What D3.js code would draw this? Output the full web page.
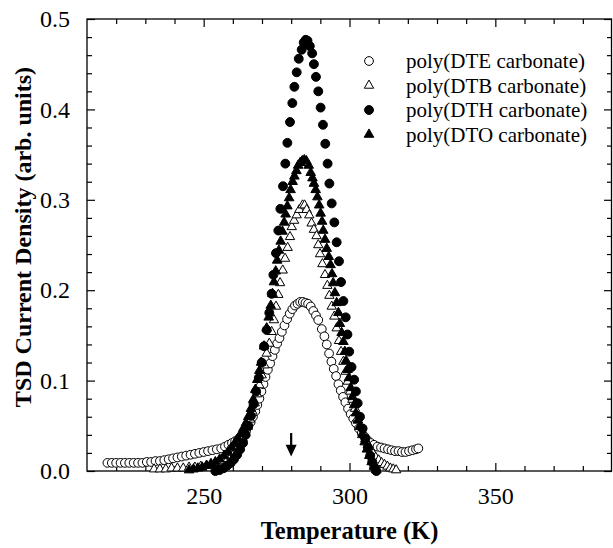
<!DOCTYPE html>
<html>
<head>
<meta charset="utf-8">
<script src="https://cdn.jsdelivr.net/npm/d3@7"></script>
<style>
  body { margin: 0; background: #fff; }
  svg text { font-family: "Liberation Serif", "DejaVu Serif", serif; fill: #000; }
</style>
</head>
<body>
<div id="chart"></div>
<script>
// poly(DTE carbonate) - open circles
const dteT = [217,218.5,220,221.5,223,224.5,226,227.5,229,230.5,232,233.5,235,236.5,238,239.5,241,242.5,244,245.5,247,248.5,250,251.5,253,254.5,256,
  257.3,258.5,259.7,260.8,261.8,262.7,263.6,264.5,265.3,266.1,266.9,267.7,268.4,269.1,269.8,270.5,271.2,272.0,272.8,273.6,274.4,275.2,276.0,276.8,277.7,278.6,279.5,280.4,281.3,282.2,283.1,284.0,284.9,285.8,286.7,287.6,288.5,289.3,
  290.5,291.4,292.2,293.0,293.8,294.6,295.4,296.2,297.0,297.8,298.6,299.5,300.4,301.3,302.2,303.2,304.2,305.2,306.2,307.3,308.4,309.6,310.8,312.0,313.2,314.4,315.6,316.8,318.0,319.2,320.4,321.6,322.8,323.6];
const dteV = [0.009,0.009,0.009,0.009,0.009,0.009,0.009,0.009,0.009,0.010,0.010,0.011,0.011,0.012,0.013,0.014,0.015,0.016,0.017,0.018,0.019,0.020,0.021,0.022,0.023,0.024,0.025,
  0.027,0.029,0.031,0.033,0.035,0.037,0.040,0.044,0.049,0.054,0.060,0.066,0.073,0.080,0.088,0.096,0.104,0.112,0.119,0.127,0.134,0.141,0.147,0.154,0.161,0.168,0.174,0.179,0.183,0.185,0.187,0.187,0.186,0.185,0.182,0.177,0.172,0.167,
  0.157,0.149,0.140,0.130,0.121,0.113,0.105,0.096,0.089,0.082,0.076,0.069,0.063,0.058,0.053,0.047,0.042,0.038,0.034,0.031,0.029,0.027,0.026,0.025,0.024,0.023,0.022,0.022,0.021,0.021,0.022,0.023,0.024,0.025];

// poly(DTB carbonate) - open triangles
const dtbT = [233,235,237,239,241,243,245,247,249,251,
  252.5,254,255.5,257,258.2,259.4,260.5,261.5,262.5,263.4,264.3,265.1,265.9,266.7,267.5,268.3,269.1,269.9,270.8,271.6,
  272.5,273.3,274.1,274.8,275.6,276.2,277.1,277.9,278.8,279.6,280.2,281.0,281.9,282.8,283.9,284.6,285.3,286.2,287.0,287.8,
  288.7,289.3,289.9,290.7,291.6,292.4,293.1,293.9,294.8,295.6,296.4,297.1,297.9,298.7,299.4,300.2,301.0,301.9,302.7,303.6,
  304.5,305.4,306.3,307.2,308.1,309.0,310.0,311.0,312.0,313.0,314.0,315.0,316.0];
const dtbV = [0.002,0.002,0.002,0.003,0.003,0.003,0.004,0.004,0.005,0.006,
  0.007,0.008,0.009,0.011,0.013,0.016,0.020,0.025,0.030,0.036,0.042,0.049,0.057,0.066,0.075,0.085,0.095,0.106,0.117,0.130,
  0.141,0.154,0.167,0.182,0.195,0.208,0.222,0.235,0.247,0.259,0.270,0.277,0.283,0.289,0.294,0.294,0.289,0.283,0.274,0.267,
  0.260,0.250,0.240,0.229,0.217,0.205,0.194,0.182,0.171,0.158,0.144,0.132,0.121,0.110,0.099,0.088,0.079,0.069,0.058,0.050,
  0.042,0.035,0.029,0.024,0.019,0.015,0.012,0.009,0.007,0.005,0.003,0.002,0.001];

// poly(DTH carbonate) - filled circles
const dthT = [254.0,255.4,256.8,258.1,259.3,260.4,261.5,262.5,263.5,264.4,265.3,266.2,267.1,268.0,268.9,269.9,270.7,271.6,272.5,273.3,
  273.9,274.8,275.6,276.3,277.2,278.0,278.7,279.6,280.4,281.1,281.9,282.6,283.6,284.3,285.0,285.6,286.4,287.2,287.8,288.5,
  289.3,290.1,290.9,291.7,292.5,293.1,293.9,294.8,295.6,296.4,297.1,297.9,298.7,299.3,299.9,300.7,301.6,302.2,302.8,303.6,
  304.5,305.4,306.3,307.1,307.8,308.5,309.2];
const dthV = [0.000,0.001,0.003,0.006,0.009,0.013,0.018,0.024,0.031,0.040,0.050,0.061,0.074,0.088,0.103,0.120,0.138,0.156,0.175,0.196,
  0.217,0.241,0.266,0.290,0.315,0.340,0.363,0.386,0.407,0.425,0.441,0.456,0.466,0.474,0.477,0.476,0.470,0.462,0.450,0.436,
  0.420,0.402,0.383,0.362,0.340,0.318,0.296,0.275,0.253,0.232,0.209,0.188,0.170,0.151,0.132,0.115,0.101,0.088,0.075,0.060,
  0.047,0.036,0.026,0.017,0.010,0.004,0.000];

// poly(DTO carbonate) - filled triangles
const dtoT = [245,246.5,248,249.5,251,252.5,254,255.5,257,258.3,259.5,260.7,261.7,262.7,263.6,264.5,265.3,266.2,267.0,267.7,
  268.4,269.1,269.7,270.7,271.6,272.3,273.0,273.6,274.1,274.7,275.2,275.8,276.4,277.0,277.6,278.1,278.7,279.3,279.8,280.5,
  281.1,281.8,282.4,283.1,283.8,284.5,285.2,286.0,286.7,287.3,287.8,288.4,289.0,289.6,290.1,290.6,291.0,291.6,292.2,292.9,
  293.5,294.0,294.4,295.0,295.6,296.2,296.7,297.3,297.9,298.4,298.8,299.3,299.8,300.4,301.0,301.6,302.2,302.9,303.6,304.4,
  305.2,306.0,306.8,307.6,308.4,309.2];
const dtoV = [0.001,0.002,0.003,0.004,0.006,0.008,0.010,0.013,0.017,0.021,0.026,0.031,0.036,0.041,0.047,0.053,0.060,0.069,0.079,0.090,
  0.101,0.111,0.120,0.138,0.158,0.170,0.183,0.196,0.209,0.221,0.233,0.244,0.254,0.265,0.275,0.284,0.293,0.302,0.311,0.320,
  0.326,0.332,0.338,0.341,0.343,0.344,0.343,0.338,0.330,0.324,0.318,0.311,0.303,0.294,0.285,0.276,0.266,0.256,0.246,0.237,
  0.228,0.218,0.208,0.197,0.186,0.175,0.163,0.153,0.143,0.132,0.122,0.112,0.103,0.092,0.082,0.073,0.064,0.056,0.049,0.040,
  0.032,0.024,0.017,0.010,0.005,0.001];

const seriesNames = ['poly(DTE carbonate)', 'poly(DTB carbonate)', 'poly(DTH carbonate)', 'poly(DTO carbonate)'];
const xTickLabels = [250, 300, 350];
const yTickLabels = [0.0, 0.1, 0.2, 0.3, 0.4, 0.5];
const arrowT = 280;

const width = 613, height = 548;
const margin = { top: 19, right: 1, bottom: 77, left: 87 };
const serif = '"Liberation Serif", "DejaVu Serif", serif';

const series = [
  { name: seriesNames[0], t: dteT, v: dteV, shape: d3.symbolCircle, size: 60, filled: false },
  { name: seriesNames[1], t: dtbT, v: dtbV, shape: d3.symbolTriangle, size: 38, filled: false },
  { name: seriesNames[2], t: dthT, v: dthV, shape: d3.symbolCircle, size: 62, filled: true },
  { name: seriesNames[3], t: dtoT, v: dtoV, shape: d3.symbolTriangle, size: 40, filled: true }
];

const svg = d3.select('#chart')
  .append('svg')
  .attr('width', width)
  .attr('height', height)
  .attr('font-family', serif);

const x = d3.scaleLinear()
  .domain([210, 390])
  .range([margin.left, width - margin.right]);

const y = d3.scaleLinear()
  .domain([0, 0.5])
  .range([height - margin.bottom, margin.top]);

const x0 = margin.left, x1 = width - margin.right;
const y0 = height - margin.bottom, y1 = margin.top;

// inward ticks on all four sides
const xMinor = d3.range(220, 390, 10).filter(d => d % 50 !== 0);
const xMajor = [250, 300, 350];
const yMinor = d3.range(0, 0.5, 0.02).map(d => +d.toFixed(2)).filter(d => Math.round(d * 100) % 10 !== 0);

svg.append('g')
  .attr('transform', `translate(0,${y0})`)
  .call(d3.axisBottom(x).tickValues(xTickLabels).tickSize(-8).tickPadding(16).tickFormat(d3.format('d')))
  .call(g => g.select('.domain').remove())
  .call(g => g.attr('font-family', serif).attr('font-size', 24));

svg.append('g')
  .attr('transform', `translate(0,${y0})`)
  .call(d3.axisBottom(x).tickValues(xMinor).tickSize(-5).tickFormat(''))
  .call(g => g.select('.domain').remove());

svg.append('g')
  .attr('transform', `translate(0,${y1})`)
  .call(d3.axisTop(x).tickValues(xMajor).tickSize(-8).tickFormat(''))
  .call(g => g.select('.domain').remove());

svg.append('g')
  .attr('transform', `translate(0,${y1})`)
  .call(d3.axisTop(x).tickValues(xMinor).tickSize(-5).tickFormat(''))
  .call(g => g.select('.domain').remove());

svg.append('g')
  .attr('transform', `translate(${x0},0)`)
  .call(d3.axisLeft(y).tickValues(yTickLabels).tickSize(-8).tickPadding(17).tickFormat(d3.format('.1f')))
  .call(g => g.select('.domain').remove())
  .call(g => g.attr('font-family', serif).attr('font-size', 24));

svg.append('g')
  .attr('transform', `translate(${x0},0)`)
  .call(d3.axisLeft(y).tickValues(yMinor).tickSize(-5).tickFormat(''))
  .call(g => g.select('.domain').remove());

svg.append('g')
  .attr('transform', `translate(${x1},0)`)
  .call(d3.axisRight(y).tickValues(yTickLabels).tickSize(-8).tickFormat(''))
  .call(g => g.select('.domain').remove());

svg.append('g')
  .attr('transform', `translate(${x1},0)`)
  .call(d3.axisRight(y).tickValues(yMinor).tickSize(-5).tickFormat(''))
  .call(g => g.select('.domain').remove());

svg.selectAll('.tick line').attr('stroke', '#000').attr('stroke-width', 1.2);

svg.append('rect')
  .attr('x', x0).attr('y', y1)
  .attr('width', x1 - x0 - 0.5).attr('height', y0 - y1)
  .attr('fill', 'none').attr('stroke', '#000').attr('stroke-width', 1.3);

// data points
series.forEach(s => {
  const sym = d3.symbol().type(s.shape).size(s.size);
  svg.append('g')
    .selectAll('path')
    .data(d3.zip(s.t, s.v))
    .join('path')
    .attr('d', sym)
    .attr('transform', d => `translate(${x(d[0])},${y(d[1])})`)
    .attr('fill', s.filled ? '#000' : '#fff')
    .attr('stroke', '#000')
    .attr('stroke-width', 1);
});

// arrow marking 280 K
const ax = x(arrowT);
svg.append('line')
  .attr('x1', ax).attr('x2', ax)
  .attr('y1', y(0.042)).attr('y2', y(0.026))
  .attr('stroke', '#000').attr('stroke-width', 2.2);
svg.append('path')
  .attr('d', `M${ax - 5.5},${y(0.029)} L${ax + 5.5},${y(0.029)} L${ax},${y(0.016)} Z`)
  .attr('fill', '#000');

// legend
const legend = svg.append('g');
series.forEach((s, i) => {
  const ly = 61 + i * 24.5;
  legend.append('path')
    .attr('d', d3.symbol().type(s.shape).size(s.size)())
    .attr('transform', `translate(369,${ly})`)
    .attr('fill', s.filled ? '#000' : '#fff')
    .attr('stroke', '#000');
  legend.append('text')
    .attr('x', 406).attr('y', ly)
    .attr('dy', '0.35em')
    .attr('font-family', serif)
    .attr('font-size', 21)
    .text(s.name);
});

// axis titles
svg.append('text')
  .attr('x', (x0 + x1) / 2)
  .attr('y', 539)
  .attr('text-anchor', 'middle')
  .attr('font-family', serif)
  .attr('font-size', 24.5)
  .attr('font-weight', 'bold')
  .text('Temperature (K)');

svg.append('text')
  .attr('transform', 'translate(31,237) rotate(-90)')
  .attr('text-anchor', 'middle')
  .attr('font-family', serif)
  .attr('font-size', 24)
  .attr('font-weight', 'bold')
  .text('TSD Current Density (arb. units)');
</script>
</body>
</html>
